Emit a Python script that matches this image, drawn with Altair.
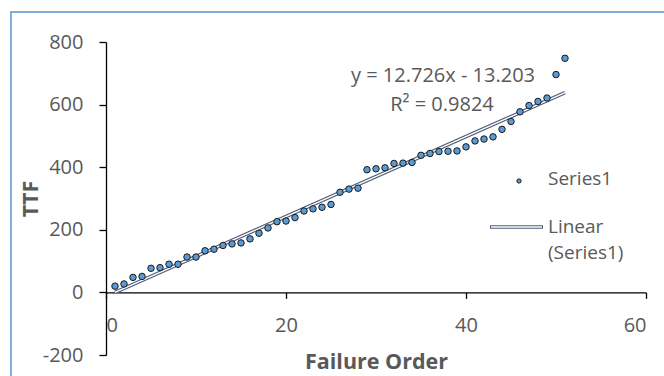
import altair as alt
import pandas as pd

# ---- data ----
failure_order = [1, 2, 3, 4, 5, 6, 7, 8, 9, 10, 11, 12, 13, 14, 15, 16, 17, 18, 19, 20,
                 21, 22, 23, 24, 25, 26, 27, 28, 29, 30, 31, 32, 33, 34, 35, 36, 37, 38, 39, 40,
                 41, 42, 43, 44, 45, 46, 47, 48, 49, 50, 51]
ttf = [20, 27, 48, 51, 77, 79, 90, 90, 113, 113, 133, 138, 150, 155, 158, 171, 189, 206, 226, 228,
       239, 260, 267, 272, 281, 320, 330, 333, 392, 395, 398, 412, 413, 415, 438, 444, 450, 451, 452, 465,
       484, 490, 497, 521, 546, 577, 597, 610, 621, 696, 748]

x_ticks = [0, 20, 40, 60]
y_ticks = [-200, 0, 200, 400, 600, 800]
equation_lines = ["y = 12.726x - 13.203", "R² = 0.9824"]
legend_labels = ["Series1", "Linear", "(Series1)"]

df = pd.DataFrame({"order": failure_order, "ttf": ttf})

FONT = "Open Sans"
GREY = "#595959"
TREND = "#4E5B78"

W, H = 540, 313

x_scale = alt.Scale(domain=[0, 60], nice=False, zero=False)
y_scale = alt.Scale(domain=[-200, 800], nice=False, zero=False)

x_axis = alt.Axis(values=x_ticks, title="Failure Order", offset=-62.6, tickSize=6,
                  labelPadding=17, labelFontSize=20, titleFontSize=21.5, titleFontWeight="bold",
                  titleY=70, titleBaseline="middle", grid=False,
                  labelExpr="datum.value + ''")
y_axis = alt.Axis(values=y_ticks, title="TTF", tickSize=7, labelPadding=16,
                  labelFontSize=20, titleFontSize=21.5, titleFontWeight="bold",
                  titleAngle=-90, titleX=-75, titleY=H / 2, titleAlign="center",
                  titleBaseline="middle", grid=False,
                  labelExpr="datum.value + ''")

base = alt.Chart(df)

points = base.mark_point(filled=True, size=42, fill="#5B9BD5", stroke="#1a1a1a",
                         strokeWidth=1, opacity=1, shape="circle").encode(
    x=alt.X("order:Q", scale=x_scale, axis=x_axis),
    y=alt.Y("ttf:Q", scale=y_scale, axis=y_axis),
)

reg = base.transform_regression("order", "ttf", method="linear", extent=[1, 51])
trend_outer = reg.mark_line(color=TREND, strokeWidth=3.6).encode(
    x=alt.X("order:Q", scale=x_scale), y=alt.Y("ttf:Q", scale=y_scale))
trend_inner = reg.mark_line(color="white", strokeWidth=1.4).encode(
    x=alt.X("order:Q", scale=x_scale), y=alt.Y("ttf:Q", scale=y_scale))

eq1 = alt.Chart(pd.DataFrame({"t": [equation_lines[0]]})).mark_text(
    font=FONT, fontSize=20, color=GREY, align="center", baseline="middle").encode(
    text="t:N", x=alt.value(337), y=alt.value(34))
eq2 = alt.Chart(pd.DataFrame({"t": [equation_lines[1]]})).mark_text(
    font=FONT, fontSize=20, color=GREY, align="center", baseline="middle").encode(
    text="t:N", x=alt.value(336), y=alt.value(63))

# legend (drawn by hand to get the double-line swatch)
leg_dot = alt.Chart(pd.DataFrame({"a": [0]})).mark_point(
    filled=True, size=18, fill="#5B9BD5", stroke="#1a1a1a", strokeWidth=1, opacity=1).encode(
    x=alt.value(413), y=alt.value(139))
leg_line_o = alt.Chart(pd.DataFrame({"a": [0]})).mark_rule(color=TREND, strokeWidth=3.6).encode(
    x=alt.value(384), x2=alt.value(437), y=alt.value(185))
leg_line_i = alt.Chart(pd.DataFrame({"a": [0]})).mark_rule(color="white", strokeWidth=1.4).encode(
    x=alt.value(385), x2=alt.value(436), y=alt.value(185))
leg_txt = alt.Chart(pd.DataFrame({"t": legend_labels, "yy": [137, 185, 211]})).mark_text(
    font=FONT, fontSize=19, color=GREY, align="left", baseline="middle").encode(
    text="t:N", x=alt.value(442), y=alt.Y("yy:Q", scale=None))

frame = alt.Chart(pd.DataFrame({"a": [0]})).mark_rect(
    fill=None, stroke="#7FAEDD", strokeWidth=2).encode(
    x=alt.value(-95), x2=alt.value(700), y=alt.value(-30), y2=alt.value(420))

chart = alt.layer(frame, trend_outer, trend_inner, points, eq1, eq2,
                  leg_dot, leg_line_o, leg_line_i, leg_txt).properties(
    width=W, height=H,
    autosize=alt.AutoSizeParams(type="none"),
    padding={"left": 106, "top": 42, "right": 18, "bottom": 21},
    background="white",
).configure_view(stroke=None).configure_axis(
    domainColor="black", tickColor="black", domainWidth=1.3, tickWidth=1.3,
    labelColor=GREY, titleColor=GREY, labelFont=FONT, titleFont=FONT,
)

chart.save("out.html", embed_options={"renderer": "svg", "actions": False})
